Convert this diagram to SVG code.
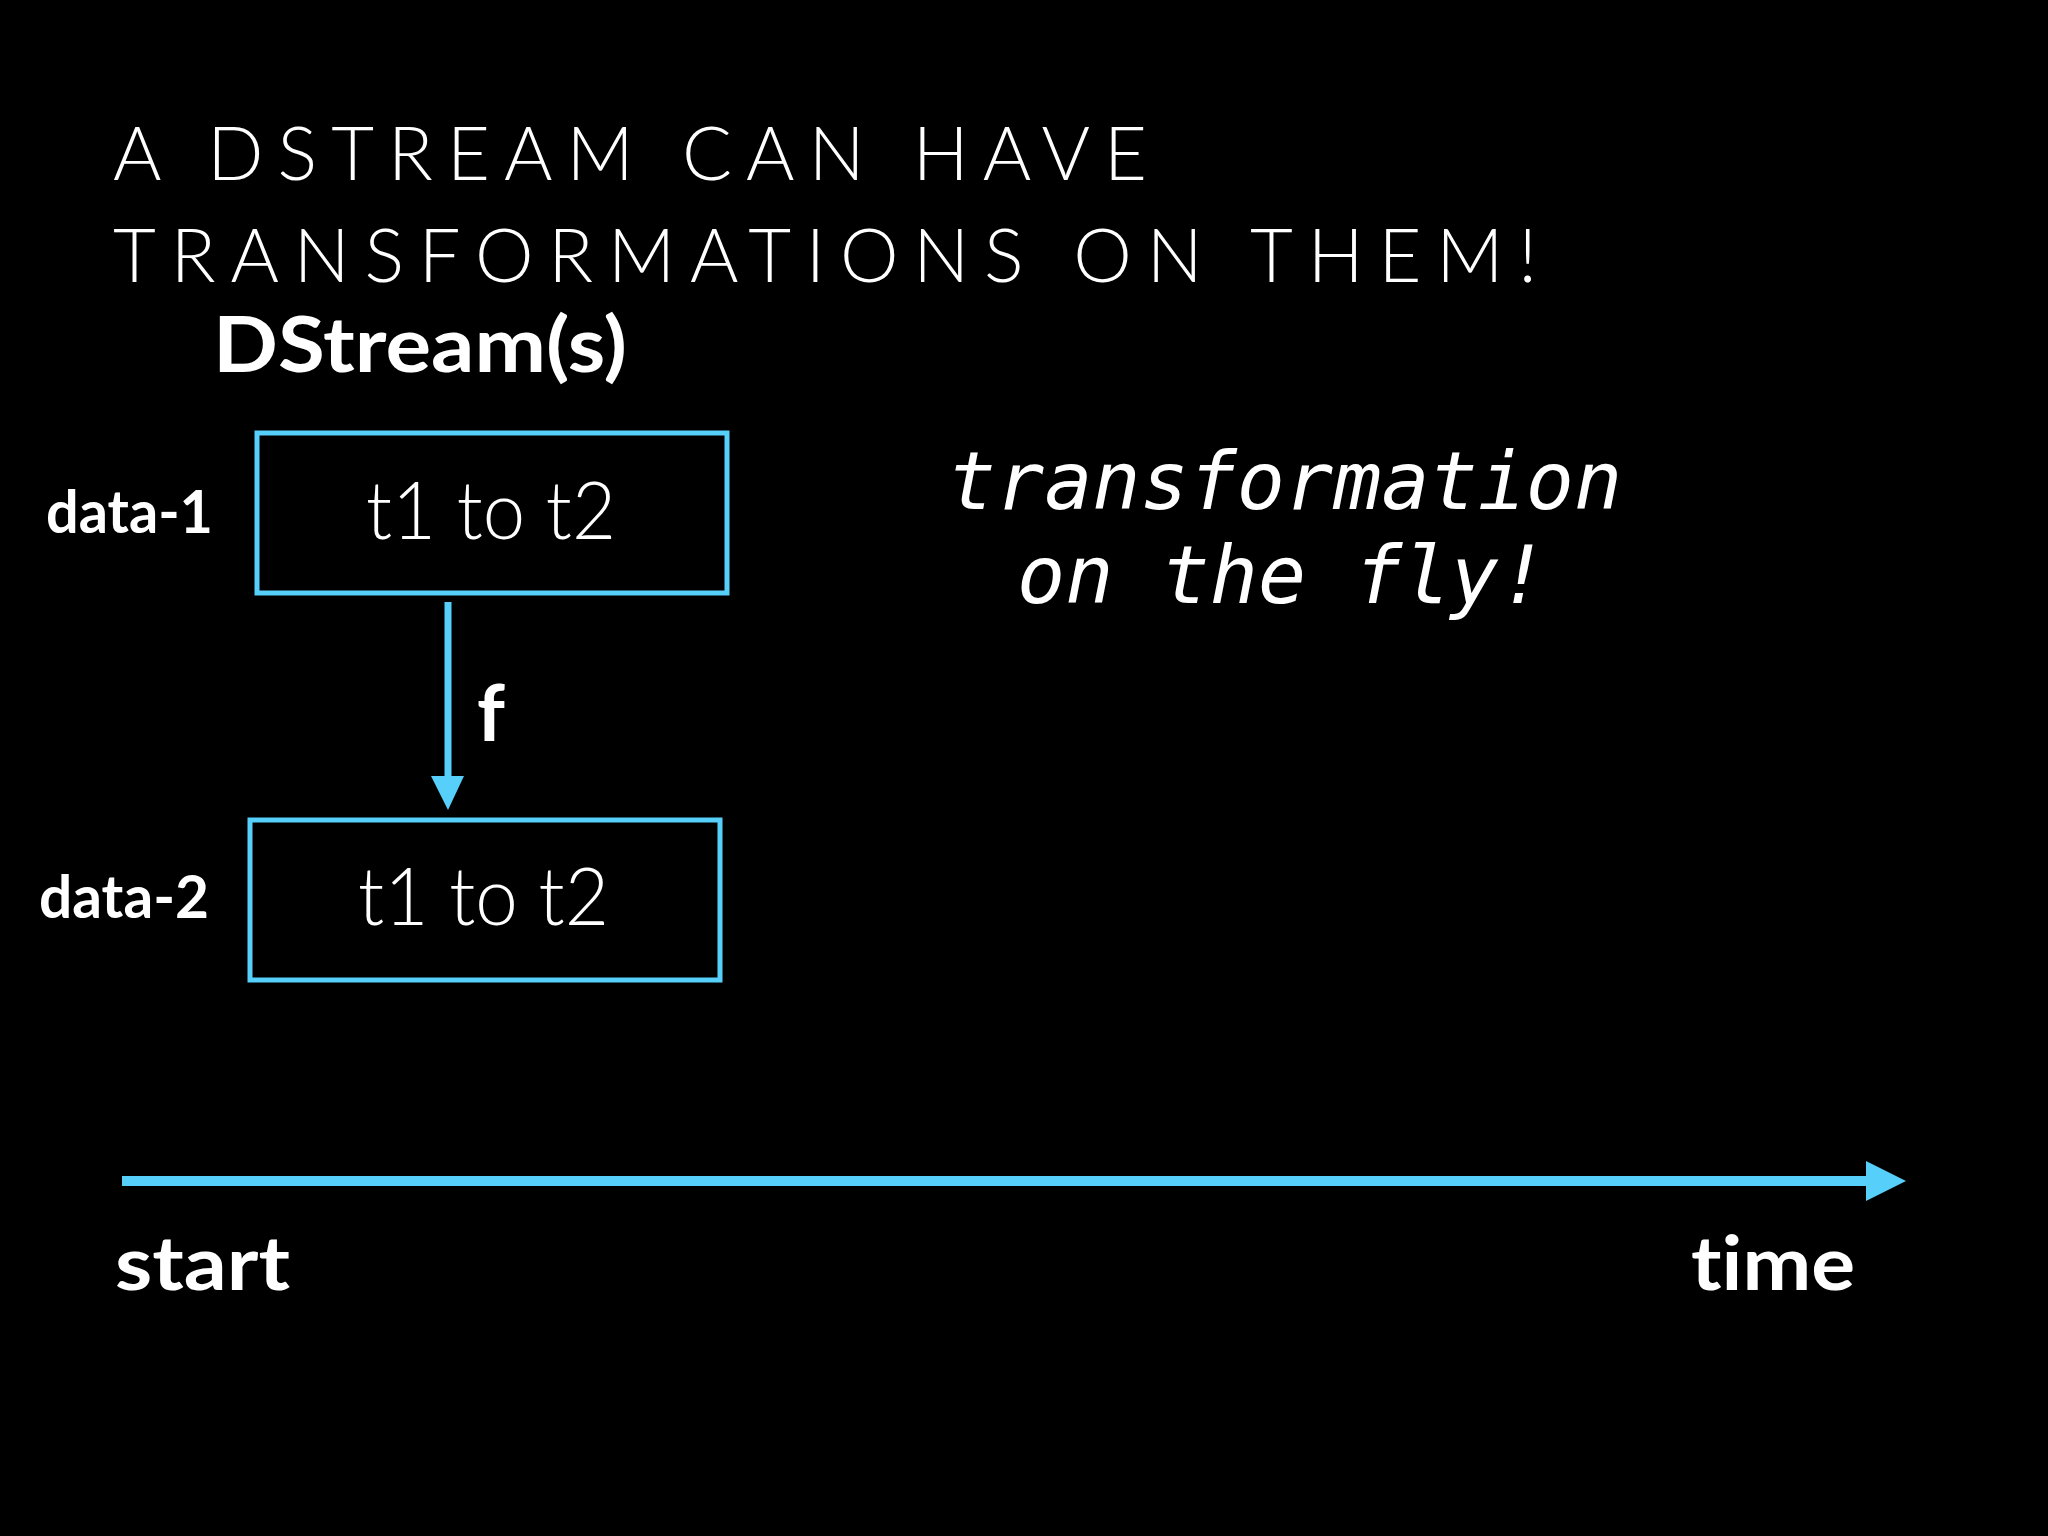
<svg xmlns="http://www.w3.org/2000/svg" width="2048" height="1536" viewBox="0 0 2048 1536">
<style>
text{font-variant-ligatures:none;font-feature-settings:"liga" 0,"clig" 0}
.title{font-family:Lato,"Open Sans","Liberation Sans",sans-serif;font-weight:300;font-size:74px;fill:#fff}
.bold{font-family:Lato,"Open Sans","Liberation Sans",sans-serif;font-weight:700;fill:#fff}
.thin{font-family:Lato,"Open Sans","Liberation Sans",sans-serif;font-weight:300;font-size:80px;fill:#fff}
.mono{font-family:"DejaVu Sans Mono","Liberation Mono",monospace;font-style:italic;font-size:80px;fill:#fff}
.box{fill:none;stroke:#56CFFB;stroke-width:5}
.conn{stroke:#56CFFB;fill:none}
</style>
<rect width="2048" height="1536" fill="#000"/>
<g id="title">
<text class="title" x="113" y="180" textLength="1034" lengthAdjust="spacing">A DSTREAM CAN HAVE</text>
<text class="title" x="113" y="282" textLength="1424" lengthAdjust="spacing">TRANSFORMATIONS ON THEM!</text>
</g>
<g id="heading"><text class="bold" x="213" y="372" font-size="76" textLength="414" lengthAdjust="spacingAndGlyphs">DStream(s)</text></g>
<g id="data-1">
<text class="bold" x="46" y="533" font-size="60" textLength="167" lengthAdjust="spacingAndGlyphs">data-1</text>
<rect class="box" x="257" y="433" width="470" height="160"/>
<text class="thin" x="366" y="539" textLength="250" lengthAdjust="spacingAndGlyphs">t1 to t2</text>
</g>
<g id="data-2">
<text class="bold" x="39" y="918" font-size="60" textLength="170" lengthAdjust="spacingAndGlyphs">data-2</text>
<rect class="box" x="250" y="820" width="470" height="160"/>
<text class="thin" x="358" y="925" textLength="251" lengthAdjust="spacingAndGlyphs">t1 to t2</text>
</g>
<g id="note">
<text class="mono" x="1285" y="509" text-anchor="middle">transformation</text>
<text class="mono" x="1282" y="603" text-anchor="middle">on the fly!</text>
</g>
<g id="connectors">
<line class="conn" x1="448" y1="602" x2="448" y2="777" stroke-width="7"/>
<path d="M431,776 L464,776 L448,810 Z" fill="#56CFFB"/>
<text class="bold" x="477" y="741" font-size="78">f</text>
<line class="conn" x1="122" y1="1181" x2="1868" y2="1181" stroke-width="10"/>
<path d="M1866,1161 L1906,1181 L1866,1201 Z" fill="#56CFFB"/>
</g>
<g id="axis-labels">
<text class="bold" x="115" y="1290" font-size="74" textLength="175" lengthAdjust="spacingAndGlyphs">start</text>
<text class="bold" x="1691" y="1290" font-size="74" textLength="164" lengthAdjust="spacingAndGlyphs">time</text>
</g>
</svg>
